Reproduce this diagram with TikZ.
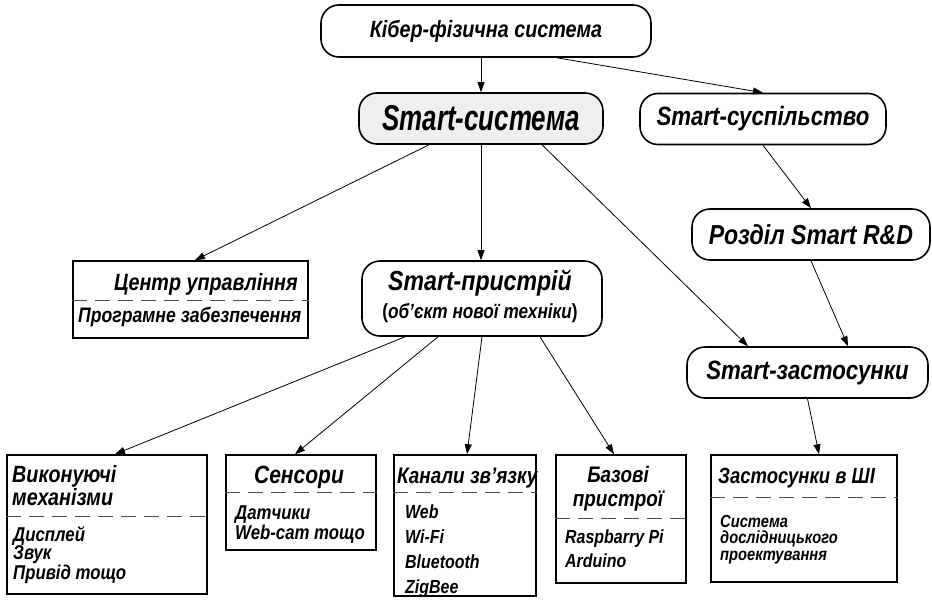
\documentclass[tikz,border=0pt]{standalone}
\usepackage{fontspec}
\setmainfont{Liberation Sans}[FakeStretch=0.84]
\newfontfamily\narrowsys{Liberation Sans}[FakeStretch=0.72]
\usepackage{tikz}
\usetikzlibrary{arrows.meta}
\definecolor{sysgray}{HTML}{EFEFEF}
\newcommand{\setfs}[2]{\fontsize{#1pt}{#2pt}\selectfont}

\begin{document}
\begin{tikzpicture}[x=1pt,y=-1pt,
  oval/.style={draw,line width=1.6pt,rounded corners=18pt,inner sep=0pt},
  box/.style={draw,line width=1.6pt,inner sep=0pt},
  sep/.style={line width=1pt,black!70,dash pattern=on 15pt off 8pt},
  arr/.style={-{Triangle[length=10pt,width=7pt]},line width=0.8pt},
  txt/.style={inner sep=0pt}]
\bfseries\itshape
\useasboundingbox (0,0) rectangle (932,605);

\node[oval,minimum width=330pt,minimum height=52pt,font=\setfs{23.5}{26}] (cps) at (486,31) {Кібер-фізична система};
\node[oval,fill=sysgray,minimum width=244pt,minimum height=51pt,font=\narrowsys\bfseries\itshape\setfs{36}{38}] (sys) at (481,118.5) {Smart-система};
\node[oval,minimum width=246pt,minimum height=51pt,font=\setfs{26.5}{28}] (soc) at (763,119) {Smart-суспільство};
\node[oval,minimum width=238pt,minimum height=51pt,font=\setfs{27.5}{28}] (rd) at (811,234.5) {Розділ Smart R\&D};
\node[oval,minimum width=241pt,minimum height=51pt,font=\setfs{26.5}{28}] (app) at (807.5,372.5) {Smart-застосунки};

\node[box,minimum width=235pt,minimum height=77pt] (ctrl) at (190.5,299.5) {};
\node[oval,minimum width=240pt,minimum height=75pt] (dev) at (482,298.5) {};
\node[box,minimum width=200pt,minimum height=139pt] (act) at (107,524.5) {};
\node[box,minimum width=150pt,minimum height=95pt] (sens) at (301,502.5) {};
\node[box,minimum width=142pt,minimum height=141pt] (chan) at (465,525.5) {};
\node[box,minimum width=130pt,minimum height=128pt] (base) at (621,519) {};
\node[box,minimum width=186pt,minimum height=127pt] (ai) at (804,518.5) {};

\draw[sep] ([yshift=-40pt]ctrl.north west) -- ([yshift=-40pt]ctrl.north east);
\draw[sep] ([yshift=-62pt]act.north west) -- ([yshift=-62pt]act.north east);
\draw[sep] ([yshift=-38pt]sens.north west) -- ([yshift=-38pt]sens.north east);
\draw[sep] ([yshift=-38pt]chan.north west) -- ([yshift=-38pt]chan.north east);
\draw[sep] ([yshift=-64pt]base.north west) -- ([yshift=-64pt]base.north east);
\draw[sep] ([yshift=-43pt]ai.north west) -- ([yshift=-43pt]ai.north east);

\node[txt,anchor=base east,font=\setfs{23.5}{25}] (ctrlT) at (298,290) {Центр управління};
\node[txt,anchor=base west,font=\setfs{21}{21}] (ctrlB) at (78,322) {Програмне забезпечення};
\node[txt,anchor=base,font=\setfs{27.5}{28}] (devT) at (480,290) {Smart-пристрій};
\node[txt,anchor=base,font=\setfs{20.5}{21}] (devB) at (480,318) {{\upshape(}об’єкт нової техніки{\upshape)}};

\node[txt,anchor=north west,align=left,font=\setfs{23.5}{21}] (actT) at (12,465) {Виконуючі\\механізми};
\node[txt,anchor=north west,align=left,font=\setfs{20}{18.5}] (actB) at (13,526) {Дисплей\\Звук\\Привід тощо};
\node[txt,anchor=base,font=\setfs{25}{25}] (sensT) at (299,483) {Сенсори};
\node[txt,anchor=north west,align=left,font=\setfs{20}{17.5}] (sensB) at (235,506) {Датчики\\Web-cam тощо};
\node[txt,anchor=base west,font=\setfs{22.5}{22}] (chanT) at (397,483) {Канали зв’язку};
\node[txt,anchor=north west,align=left,font=\setfs{19}{25}] (chanB) at (405,505) {Web\\Wi-Fi\\Bluetooth\\ZigBee};
\node[txt,anchor=north,align=center,font=\setfs{22.5}{24}] (baseT) at (618,466) {Базові\\пристрої};
\node[txt,anchor=north west,align=left,font=\setfs{19}{24}] (baseB) at (565,530) {Raspbarry Pi\\Arduino};
\node[txt,anchor=base west,font=\setfs{22}{22}] (aiT) at (718,483) {Застосунки в ШІ};
\node[txt,anchor=north west,align=left,font=\setfs{17.5}{16.5}] (aiB) at (720,515) {Система\\дослідницького\\проектування};

\draw[arr] (sys.north |- cps.south) -- (sys.north);
\draw[arr] ([xshift=71pt]cps.south) -- (soc.north);
\draw[arr] ([xshift=-52pt]sys.south) -- ([xshift=4.5pt]ctrl.north);
\draw[arr] (sys.south) -- (sys.south |- dev.north);
\draw[arr] ([xshift=61pt]sys.south) -- ([xshift=-59.5pt]app.north);
\draw[arr] (soc.south) -- (rd.north);
\draw[arr] (rd.south) -- ([xshift=40.5pt]app.north);
\draw[arr] ([xshift=-77pt]dev.south) -- ([xshift=8pt]act.north);
\draw[arr] ([xshift=-44pt]dev.south) -- ([xshift=-6pt]sens.north);
\draw[arr] (dev.south) -- ([xshift=2pt]chan.north);
\draw[arr] ([xshift=58pt]dev.south) -- ([xshift=-7pt]base.north);
\draw[arr] (app.south) -- ([xshift=15pt]ai.north);
\end{tikzpicture}
\end{document}
